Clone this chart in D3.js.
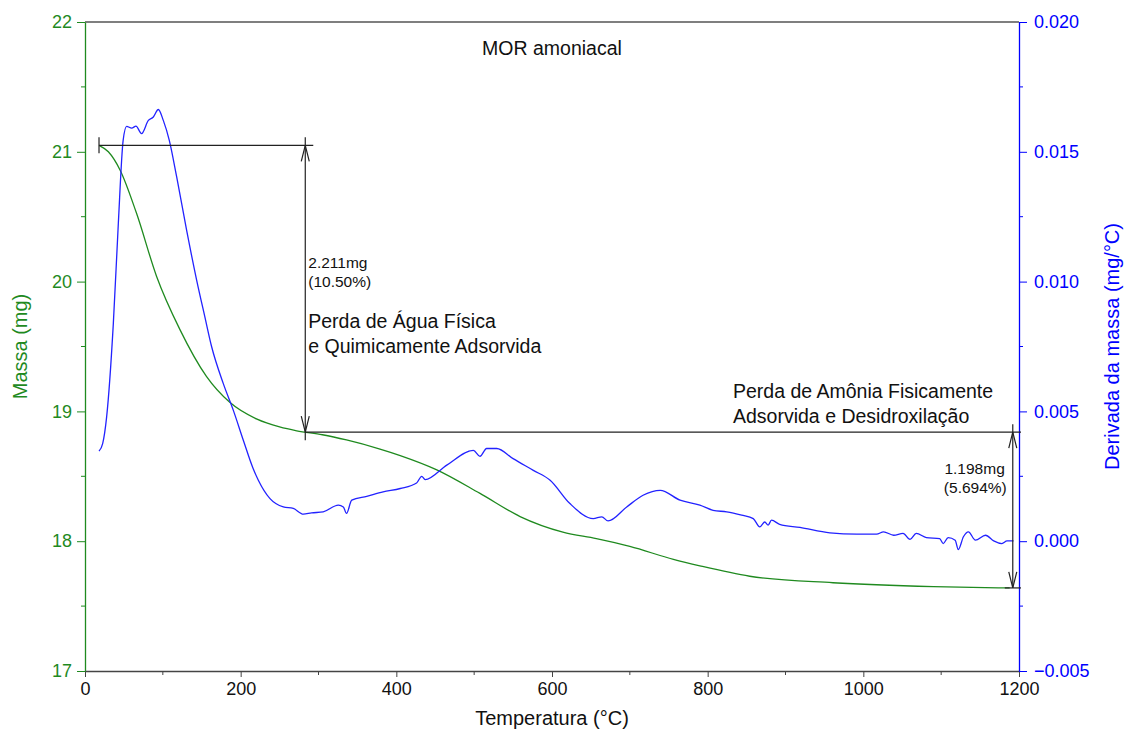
<!DOCTYPE html>
<html>
<head>
<meta charset="utf-8">
<script src="https://cdn.jsdelivr.net/npm/d3@7"></script>
<style>
    body { margin: 0; background: #fff; }
    text { font-family: "Liberation Sans", Arial, sans-serif; }
</style>
</head>
<body>
<svg id="chart" width="1126" height="731"></svg>
<script>
//  data
const massT = [18, 30, 45, 66, 92, 122, 156, 186, 221, 250, 272, 305, 336, 379, 405, 452, 507, 559, 614, 657, 700, 756, 790, 854, 961, 1090, 1188];
const massMg = [21.05, 21.0, 20.86, 20.53, 20.04, 19.63, 19.27, 19.07, 18.94, 18.88, 18.85, 18.82, 18.78, 18.71, 18.66, 18.55, 18.37, 18.19, 18.07, 18.02, 17.96, 17.86, 17.81, 17.73, 17.68, 17.65, 17.64];

const derivT = [18, 22.7, 27.8, 36.4, 42.8, 49, 53.5, 60, 65.5, 72.7, 81.4, 87.8, 94.2, 100.6, 108.3, 117.8, 130.6, 143.5, 154, 162.8, 177.7, 190.6, 203.4, 216, 222.7, 237.7, 254.8, 267.6, 280.5, 291, 306, 325.5, 331.9, 336, 342.7, 362, 383, 405, 426, 432.6, 437, 464.8, 499, 507.5, 516, 529, 550, 576, 597.6, 623, 653, 664, 672, 696, 717, 739, 764.5, 790, 807, 824.5, 843.7, 858.6, 867, 873.4, 877.7, 882, 892.5, 918.6, 957, 991.5, 1017, 1026, 1039, 1051, 1060, 1068, 1081, 1098, 1102.6, 1109, 1118, 1122, 1128.6, 1135, 1144, 1157, 1167.5, 1178, 1184.6, 1193];
const derivV = [0.00347, 0.00376, 0.00479, 0.00838, 0.01223, 0.01544, 0.01598, 0.01591, 0.01599, 0.0157, 0.01621, 0.01634, 0.01663, 0.01621, 0.01544, 0.01403, 0.01197, 0.01005, 0.00864, 0.00748, 0.00607, 0.00504, 0.00389, 0.0028, 0.00235, 0.00164, 0.00132, 0.00126, 0.00104, 0.00109, 0.00113, 0.00139, 0.00132, 0.00107, 0.00158, 0.00173, 0.0019, 0.00203, 0.00224, 0.0025, 0.00237, 0.00293, 0.0035, 0.00327, 0.00357, 0.00357, 0.00318, 0.00273, 0.00235, 0.00145, 0.00087, 0.00094, 0.00078, 0.00132, 0.00177, 0.00196, 0.00158, 0.00139, 0.00119, 0.00113, 0.001, 0.00087, 0.00055, 0.00074, 0.00062, 0.00081, 0.00065, 0.00053, 0.00032, 0.00027, 0.00027, 0.00036, 0.00023, 0.0003, 0.00007, 0.0003, 0.00014, 0.0001, -0.00009, 0.00014, 0.00004, -0.00032, 0.00017, 0.00036, 0.00004, 0.00023, 0.00001, -0.00009, 0.00001, 0.00001];

const xTicks = [0, 200, 400, 600, 800, 1000, 1200];
const massTicks = [17, 18, 19, 20, 21, 22];
const derivTicks = [-0.005, 0.000, 0.005, 0.010, 0.015, 0.020];

//  steps: start, middle and end mass of the two losses
const stepMass = [21.05, 18.84, 17.64];
const stepT = [18, 283, 1192];

const green = "#1f8a1f";
const blue = "#0000ff";

const margin = { left: 85, right: 107, top: 22, bottom: 60 };
const W = 1126, H = 731;

const svg = d3.select("#chart");

const x = d3.scaleLinear().domain([0, 1200]).range([margin.left, W - margin.right]);
const yM = d3.scaleLinear().domain([17, 22]).range([H - margin.bottom, margin.top]);
const yD = d3.scaleLinear().domain([-0.005, 0.020]).range([H - margin.bottom, margin.top]);

//  minor ticks (half steps)
const minorX = d3.range(100, 1200, 200);
const minorM = d3.range(17.5, 22, 1);
const minorD = [-0.0025, 0.0025, 0.0075, 0.0125, 0.0175];

//  top frame line
svg.append("line")
    .attr("x1", x(0)).attr("x2", x(1200))
    .attr("y1", yM(22)).attr("y2", yM(22))
    .attr("stroke", "#555").attr("stroke-width", 1.3);

//  x axis
const xAxis = svg.append("g")
    .attr("transform", `translate(0,${yM(17)})`)
    .call(d3.axisBottom(x).tickValues(xTicks).tickFormat(d3.format("d")).tickSize(6).tickSizeOuter(0));
xAxis.selectAll(".tick text").attr("font-size", 18).attr("fill", "#111").attr("dy", "0.85em");
xAxis.select(".domain").attr("stroke", "#444").attr("stroke-width", 1.3);
xAxis.selectAll(".tick line").attr("stroke", "#444");
xAxis.selectAll(".minor").data(minorX).enter().append("line")
    .attr("x1", d => x(d)).attr("x2", d => x(d)).attr("y1", 0).attr("y2", 4)
    .attr("stroke", "#444");

//  left axis (mass)
const yAxisL = svg.append("g")
    .attr("transform", `translate(${x(0)},0)`)
    .call(d3.axisLeft(yM).tickValues(massTicks).tickFormat(d3.format("d")).tickSize(8).tickPadding(5).tickSizeOuter(0));
yAxisL.selectAll(".tick text").attr("font-size", 18).attr("fill", green);
yAxisL.select(".domain").attr("stroke", green).attr("stroke-width", 1.3);
yAxisL.selectAll(".tick line").attr("stroke", green);
yAxisL.selectAll(".minor").data(minorM).enter().append("line")
    .attr("x1", 0).attr("x2", -4).attr("y1", d => yM(d)).attr("y2", d => yM(d))
    .attr("stroke", green);

//  right axis (derivative)
const yAxisR = svg.append("g")
    .attr("transform", `translate(${x(1200)},0)`)
    .call(d3.axisRight(yD).tickValues(derivTicks).tickFormat(d3.format(".3f")).tickSize(8).tickPadding(7).tickSizeOuter(0));
yAxisR.selectAll(".tick text").attr("font-size", 18).attr("fill", blue);
yAxisR.select(".domain").attr("stroke", blue).attr("stroke-width", 1.3);
yAxisR.selectAll(".tick line").attr("stroke", blue);
yAxisR.selectAll(".minor").data(minorD).enter().append("line")
    .attr("x1", 0).attr("x2", 4).attr("y1", d => yD(d)).attr("y2", d => yD(d))
    .attr("stroke", blue);

//  axis titles
svg.append("text")
    .attr("x", (x(0) + x(1200)) / 2).attr("y", 725)
    .attr("text-anchor", "middle").attr("font-size", 20).attr("fill", "#111")
    .text("Temperatura (°C)");
svg.append("text")
    .attr("transform", `translate(27,${(yM(17) + yM(22)) / 2}) rotate(-90)`)
    .attr("text-anchor", "middle").attr("font-size", 20).attr("fill", green)
    .text("Massa (mg)");
svg.append("text")
    .attr("transform", `translate(1119,${(yM(17) + yM(22)) / 2}) rotate(-90)`)
    .attr("text-anchor", "middle").attr("font-size", 20).attr("fill", blue)
    .text("Derivada da massa (mg/°C)");

svg.append("text")
    .attr("x", (x(0) + x(1200)) / 2).attr("y", 55)
    .attr("text-anchor", "middle").attr("font-size", 19.5).attr("fill", "#111")
    .text("MOR amoniacal");

//  curves
const massLine = d3.line().x((d, i) => x(massT[i])).y(d => yM(d)).curve(d3.curveMonotoneX);
svg.append("path").datum(massMg)
    .attr("d", massLine).attr("fill", "none").attr("stroke", green).attr("stroke-width", 1.3);

const derivLine = d3.line().x((d, i) => x(derivT[i])).y(d => yD(d)).curve(d3.curveMonotoneX);
svg.append("path").datum(derivV)
    .attr("d", derivLine).attr("fill", "none").attr("stroke", "#2222ff").attr("stroke-width", 1.3);

//  step annotations
const ink = "#222";
const ann = svg.append("g").attr("stroke", ink).attr("stroke-width", 1.2).attr("fill", "none");

const y0 = yM(stepMass[0]), y1 = yM(stepMass[1]), y2 = yM(stepMass[2]);
const xa = x(stepT[1]), xb = x(stepT[2]);

//  first step
ann.append("line").attr("x1", x(stepT[0])).attr("x2", xa + 8).attr("y1", y0).attr("y2", y0);
ann.append("line").attr("x1", x(stepT[0])).attr("x2", x(stepT[0])).attr("y1", y0 - 8).attr("y2", y0 + 8);
ann.append("line").attr("x1", xa).attr("x2", xa).attr("y1", y0 - 8).attr("y2", y1 + 8);
ann.append("path").attr("d", `M${xa - 4},${y0 + 16} L${xa},${y0} L${xa + 4},${y0 + 16}`);
ann.append("path").attr("d", `M${xa - 4},${y1 - 16} L${xa},${y1} L${xa + 4},${y1 - 16}`);

//  second step
ann.append("line").attr("x1", xa).attr("x2", x(1200) + 2).attr("y1", y1).attr("y2", y1);
ann.append("line").attr("x1", xb).attr("x2", xb).attr("y1", y1 - 8).attr("y2", y2);
ann.append("line").attr("x1", xb - 8).attr("x2", x(1200) + 2).attr("y1", y2).attr("y2", y2);
ann.append("path").attr("d", `M${xb - 4},${y1 + 16} L${xb},${y1} L${xb + 4},${y1 + 16}`);
ann.append("path").attr("d", `M${xb - 4},${y2 - 16} L${xb},${y2} L${xb + 4},${y2 - 16}`);

//  annotation texts
const label = (tx, ty, str, size, anchor) => svg.append("text")
    .attr("x", tx).attr("y", ty).attr("font-size", size)
    .attr("text-anchor", anchor || "start").attr("fill", "#111").text(str);

label(xa + 3, 268, "2.211mg", 15.5);
label(xa + 3, 287, "(10.50%)", 15.5);
label(xa + 3, 328, "Perda de Água Física", 19.5);
label(xa + 3, 353, "e Quimicamente Adsorvida", 19.5);

label(733, 398, "Perda de Amônia Fisicamente", 19.5);
label(733, 423, "Adsorvida e Desidroxilação", 19.5);
label(xb - 8, 474, "1.198mg", 15.5, "end");
label(xb - 6, 493, "(5.694%)", 15.5, "end");
</script>
</body>
</html>
